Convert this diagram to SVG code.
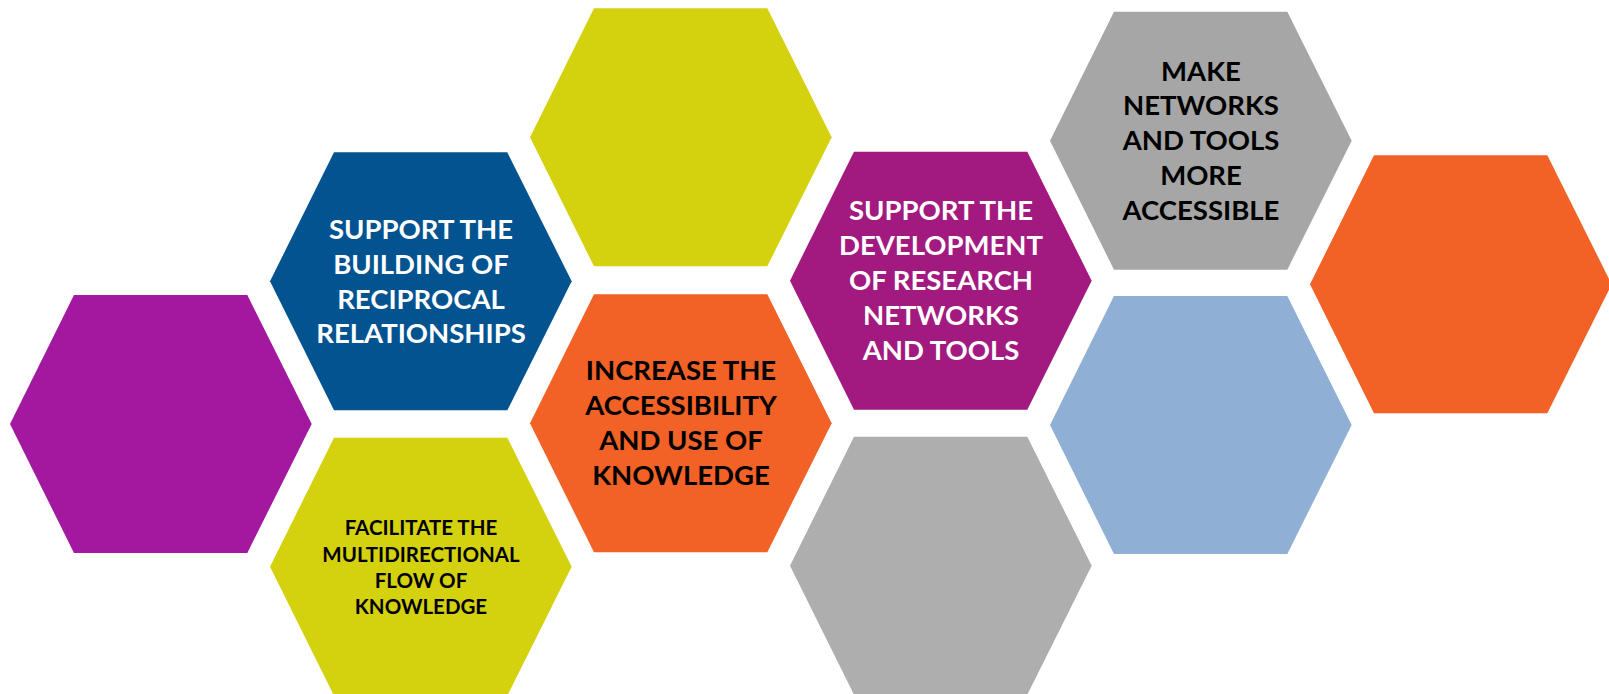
<svg xmlns="http://www.w3.org/2000/svg" xmlns:xlink="http://www.w3.org/1999/xlink" width="1609" height="694" viewBox="0 0 1609 694">
<style>
.t{font-family:Lato,"Liberation Sans",sans-serif;font-weight:bold;font-size:27.5px;text-anchor:middle}
.s{font-size:20.5px}
.w{fill:#ffffff}
.k{fill:#000000}
</style>
<defs>
<polygon id="hex" points="0,129 64,0 237.3,0 301.7,129 237.3,258 64,258"/>
</defs>
<rect width="1609" height="694" fill="#ffffff"/>
<g id="connectors"></g>
<g id="n1"><use href="#hex" xlink:href="#hex" x="10" y="295" fill="#A2199F"/></g>
<g id="n2"><use href="#hex" xlink:href="#hex" x="270" y="152.3" fill="#045391"/>
<text class="t w" x="421" y="239">SUPPORT THE</text>
<text class="t w" x="421" y="273.8">BUILDING OF</text>
<text class="t w" x="421" y="308.6">RECIPROCAL</text>
<text class="t w" x="421" y="343.4">RELATIONSHIPS</text></g>
<g id="n3"><use href="#hex" xlink:href="#hex" x="530" y="8.3" fill="#D4D20E"/></g>
<g id="n4"><use href="#hex" xlink:href="#hex" x="790" y="151.7" fill="#A21A80"/>
<text class="t w" x="941" y="220">SUPPORT THE</text>
<text class="t w" x="941" y="255">DEVELOPMENT</text>
<text class="t w" x="941" y="290">OF RESEARCH</text>
<text class="t w" x="941" y="325">NETWORKS</text>
<text class="t w" x="941" y="360">AND TOOLS</text></g>
<g id="n5"><use href="#hex" xlink:href="#hex" x="1050" y="11.7" fill="#A6A6A6"/>
<text class="t k" x="1201" y="80.5">MAKE</text>
<text class="t k" x="1201" y="115.4">NETWORKS</text>
<text class="t k" x="1201" y="150.3">AND TOOLS</text>
<text class="t k" x="1201" y="185.1">MORE</text>
<text class="t k" x="1201" y="220">ACCESSIBLE</text></g>
<g id="n6"><use href="#hex" xlink:href="#hex" x="1310" y="155.3" fill="#F26125"/></g>
<g id="n7"><use href="#hex" xlink:href="#hex" x="270" y="437.7" fill="#D4D20E"/>
<text class="t s k" x="421" y="535">FACILITATE THE</text>
<text class="t s k" x="421" y="561.5">MULTIDIRECTIONAL</text>
<text class="t s k" x="421" y="588">FLOW OF</text>
<text class="t s k" x="421" y="614">KNOWLEDGE</text></g>
<g id="n8"><use href="#hex" xlink:href="#hex" x="530" y="294.3" fill="#F26125"/>
<text class="t k" x="681" y="380">INCREASE THE</text>
<text class="t k" x="681" y="415">ACCESSIBILITY</text>
<text class="t k" x="681" y="450">AND USE OF</text>
<text class="t k" x="681" y="485">KNOWLEDGE</text></g>
<g id="n9"><use href="#hex" xlink:href="#hex" x="790" y="436.7" fill="#AEAEAE"/></g>
<g id="n10"><use href="#hex" xlink:href="#hex" x="1050" y="296" fill="#8FAFD5"/></g>
</svg>
